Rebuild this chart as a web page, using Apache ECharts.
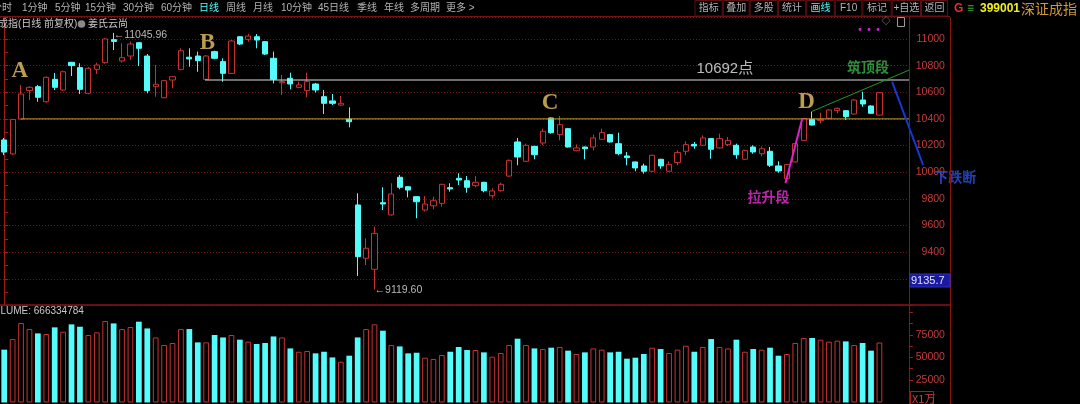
<!DOCTYPE html>
<html><head><meta charset="utf-8">
<script src="https://cdn.jsdelivr.net/npm/echarts@6.0.0/dist/echarts.min.js"></script>
<style>html,body{margin:0;padding:0;background:#000;overflow:hidden}#c{width:1080px;height:404px}</style>
</head><body><div id="c"></div>
<script>
// ---------------- data ----------------
const openP = [10242,10137,10399,10612,10642,10529,10697,10617,10825,10785,
10592,10772,10822,10995,10835,10872,10972,10872,10642,10559,
10692,10772,10863,10872,10697,10905,10830,10742,11017,10997,
11017,10980,10855,10672,10705,10637,10612,10662,10567,10535,
10504,10399,9754,9354,9271,9771,9679,9962,9891,9816,
9716,9748,9766,9884,9954,9936,9899,9924,9823,9861,
9971,10227,10082,10194,10219,10407,10282,10327,10161,10189,
10189,10247,10282,10214,10122,10077,10047,10007,10097,10007,
10072,10157,10209,10202,10252,10182,10207,10202,10097,10189,
10139,10157,10047,9951,10077,10239,10397,10387,10405,10462,
10462,10437,10542,10497,10429];
const closeP = [10151,10396,10587,10637,10562,10712,10637,10754,10800,10622,
10780,10805,11000,10982,10860,10962,10930,10612,10660,10687,
10717,10912,10850,10837,10872,10855,10742,10985,10962,11022,
10992,10887,10697,10680,10662,10655,10680,10617,10517,10517,
10517,10379,9366,9429,9541,9761,9836,9887,9866,9778,
9761,9786,9909,9874,9941,9887,9924,9861,9859,9909,
10089,10114,10202,10131,10307,10297,10357,10189,10182,10176,
10257,10297,10227,10139,10109,10032,10007,10127,10047,10059,
10147,10207,10197,10257,10172,10252,10239,10131,10164,10152,
10176,10052,10009,10057,10214,10402,10354,10397,10467,10480,
10417,10542,10512,10442,10597];
const lowP = [10128,10130,10395,10542,10529,10522,10617,10610,10722,10587,
10585,10737,10815,10917,10822,10842,10797,10592,10567,10555,
10630,10765,10792,10754,10692,10848,10679,10738,10955,10980,
10930,10880,10667,10580,10622,10630,10562,10597,10437,10504,
10497,10337,9221,9303,9119.6,9716,9675,9872,9811,9654,
9705,9721,9741,9854,9904,9846,9887,9849,9804,9855,
9965,10052,10077,10097,10202,10289,10239,10185,10158,10097,
10164,10244,10222,10127,10052,10007,9989,10003,10026,10004,
10052,10127,10176,10198,10101,10178,10197,10101,10093,10139,
10119,10039,9996,9947,10073,10235,10350,10367,10400,10442,
10392,10433,10492,10438,10425];
const highP = [10257,10400,10655,10645,10655,10720,10745,10762,10828,10818,
10790,10822,11008,11045.96,10968,10980,10977,10887,10805,10692,
10722,10930,10930,10905,10880,10912,10855,10992,11022,11038,
11037,10985,10905,10730,10747,10680,10747,10670,10617,10587,
10572,10487,9842,9504,9591,9887,9917,9979,9895,9820,
9821,9816,9912,9917,9992,9971,9971,9928,9879,9921,
10095,10257,10214,10198,10327,10411,10422,10332,10209,10192,
10282,10327,10287,10297,10152,10080,10064,10132,10100,10082,
10164,10232,10227,10277,10256,10289,10264,10214,10168,10202,
10194,10189,10082,10062,10218,10405,10454,10447,10472,10485,
10466,10550,10604,10502,10602];
// volume in 万 (X1万)
const volume = [58700,70500,88300,81600,76800,76100,83500,78700,86800,84200,
75000,77900,90500,87900,81600,83900,89800,82300,72300,63900,
66100,81600,81600,66800,66800,75000,72300,75000,69800,67600,
65000,66100,73400,72300,60100,56400,57200,54600,56400,50100,
45300,52000,72300,81600,86800,79800,63900,62300,54600,55300,
49800,48300,52800,56400,61700,58300,58300,55700,50900,55000,
63900,70900,63900,60100,59400,60900,61700,57600,53900,55700,
60100,58700,55700,56400,48700,49800,53900,60900,59400,55000,
58700,63100,56400,61700,70500,61700,60100,69800,56400,59400,
58700,60900,52000,53900,66100,71700,71700,69800,67600,68700,
67900,63900,66100,57600,66633];
const days = openP.map((_, i) => 'D' + (i + 1));
const priceTicks = [9400, 9600, 9800, 10000, 10200, 10400, 10600, 10800, 11000];
const volTicks = [25000, 50000, 75000];
const lastVolume = '666334784';
const cursorValue = '9135.7';
// annotation lines: [x(candle index units), price]
const supportLine = [[2, 10400], [107.5, 10400]];
const resistLine = [[23.85, 10692], [107.5, 10692]];
const topLine = [[95.86, 10454], [107.5, 10767]];
const riseLine = [[92.8, 9917], [94.8, 10403]];
const fallLine = [[105.47, 10679], [109.15, 10054]];
// annotation texts: [x, price, text]
const pointLabels = [[1.86, 10756, 'A'], [24.15, 10966, 'B'], [64.83, 10519, 'C'], [95.3, 10523, 'D']];
const noteLabels = [[85.6, 10775, '10692点'], [102.6, 10794, '筑顶段'], [90.8, 9814, '拉升段'], [112.97, 9964, '下跌断']];

// ---------------- styles ----------------
const UP = '#c83232', DOWN = '#54fcfc', GRIDC = '#701818', AXC = '#a01c1c', LBL = '#c83a3a';
const SANS = '"Liberation Sans", "Noto Sans CJK SC", sans-serif';
const CJK = '"Noto Sans CJK SC", "Liberation Sans", sans-serif';
const noteStyles = [
  {color: '#e8e8e8', fontSize: 15, fontFamily: SANS},
  {color: '#3db34a', fontSize: 14, fontWeight: 'bold', fontFamily: CJK},
  {color: '#e632d2', fontSize: 14, fontWeight: 'bold', fontFamily: CJK},
  {color: '#2a52e8', fontSize: 14, fontWeight: 'bold', fontFamily: CJK}
];

const ohlc = openP.map((o, i) => [o, closeP[i], lowP[i], highP[i]]);
const volData = volume.map((v, i) => ({
  value: v,
  itemStyle: closeP[i] >= openP[i] ? {color: '#000', borderColor: UP, borderWidth: 1} : {color: DOWN, borderWidth: 0}
}));

// overlay grid (same pixel scale as the candle grid, but reaching the right edge)
const GL = -1.9, GR = 171.1, GT = 17, GH = 288.4, SLOTS = 108;
const unitPx = (1080 - GL - GR) / SLOTS;
const overlayMax = -0.5 + (1080 - GL) / unitPx;

function lineSeries(data, color, width) {
  return {type: 'line', xAxisIndex: 3, yAxisIndex: 2, data, symbol: 'none', silent: true, clip: false,
    lineStyle: {color, width}, z: 5, animation: false};
}

// ---------------- chrome ----------------
const tbLeft = [['分时', -8], ['1分钟', 22], ['5分钟', 55], ['15分钟', 85], ['30分钟', 123], ['60分钟', 161], ['日线', 199],
  ['周线', 226], ['月线', 253], ['10分钟', 281], ['45日线', 318], ['季线', 357], ['年线', 384], ['多周期', 410], ['更多 >', 446]];
const tbRightSep = [694.5, 722.8, 749.7, 777.9, 806.2, 834.8, 862.4, 891.7, 921, 948];
const tbRight = ['指标', '叠加', '多股', '统计', '画线', 'F10', '标记', '+自选', '返回'];
const graphics = [];
tbLeft.forEach(([t, x]) => graphics.push({type: 'text', x: x, y: 8.5, z: 100,
  style: {text: t, fill: t === '日线' ? DOWN : '#b4b4b4', font: '10px ' + SANS, verticalAlign: 'middle'}}));
graphics.push({type: 'line', shape: {x1: 0, y1: 16.5, x2: 950, y2: 16.5}, style: {stroke: '#7a1010', lineWidth: 1}, z: 100});
tbRight.forEach((t, k) => {
  const x1 = tbRightSep[k], x2 = tbRightSep[k + 1];
  graphics.push({type: 'rect', shape: {x: x1 + 0.5, y: 0.5, width: x2 - x1 - 1, height: 15.5},
    style: {fill: '#000', stroke: '#5e1010', lineWidth: 1}, z: 100});
  graphics.push({type: 'text', x: (x1 + x2) / 2, y: 8.5, z: 101,
    style: {text: t, fill: t === '画线' ? DOWN : '#b4b4b4', font: '10px ' + SANS, align: 'center', verticalAlign: 'middle'}});
});
graphics.push({type: 'text', x: 954, y: 9, z: 101, style: {text: 'G', fill: '#e03030', font: 'bold 12px ' + SANS, verticalAlign: 'middle'}});
graphics.push({type: 'text', x: 967, y: 9, z: 101, style: {text: '≡', fill: '#30b030', font: 'bold 12px ' + SANS, verticalAlign: 'middle'}});
graphics.push({type: 'text', x: 980, y: 9, z: 101, style: {text: '399001', fill: '#f0f020', font: 'bold 12px ' + SANS, verticalAlign: 'middle'}});
graphics.push({type: 'text', x: 1021, y: 9, z: 101, style: {text: '深证成指', fill: '#d0983a', font: '14px ' + CJK, verticalAlign: 'middle'}});
// panel frames
graphics.push({type: 'line', shape: {x1: 950.5, y1: 17, x2: 950.5, y2: 404}, style: {stroke: '#8a1414', lineWidth: 1}, z: 100});
graphics.push({type: 'line', shape: {x1: 909.5, y1: 17, x2: 909.5, y2: 404}, style: {stroke: '#8a1414', lineWidth: 1}, z: 100});
graphics.push({type: 'line', shape: {x1: 0, y1: 305, x2: 950, y2: 305}, style: {stroke: '#8a1414', lineWidth: 1.5}, z: 100});
// titles
graphics.push({type: 'text', x: -22, y: 24, z: 100, style: {text: '深证成指(日线 前复权)', fill: '#c8c8c8', font: '10px ' + SANS, verticalAlign: 'middle'}});
graphics.push({type: 'circle', shape: {cx: 81.5, cy: 24, r: 3.8}, style: {fill: '#8a8a8a'}, z: 100});
graphics.push({type: 'text', x: 88, y: 24, z: 100, style: {text: '姜氏云尚', fill: '#c8c8c8', font: '10px ' + SANS, verticalAlign: 'middle'}});
graphics.push({type: 'text', x: -14, y: 311, z: 100, style: {text: 'VOLUME: ' + lastVolume, fill: '#c8c8c8', font: '10px ' + SANS, verticalAlign: 'middle'}});
// cursor value box
graphics.push({type: 'rect', shape: {x: 909.5, y: 274, width: 40.5, height: 13}, style: {fill: '#1a1aa0', stroke: '#3030c0', lineWidth: 1}, z: 110});
graphics.push({type: 'text', x: 911, y: 280.8, z: 111, style: {text: cursorValue, fill: '#e0e0ff', font: '11px ' + SANS, verticalAlign: 'middle'}});
// unit box
graphics.push({type: 'rect', shape: {x: 910.5, y: 391.5, width: 23, height: 13}, style: {fill: '#000', stroke: '#a01c1c', lineWidth: 1}, z: 110});
graphics.push({type: 'text', x: 912, y: 398.5, z: 111, style: {text: 'X1万', fill: '#c83a3a', font: '11px ' + CJK, verticalAlign: 'middle'}});
// small icons top-right
graphics.push({type: 'text', x: 869, y: 30, z: 100, style: {text: '•  •  •', fill: '#d020d0', font: 'bold 10px ' + SANS, align: 'center', verticalAlign: 'middle'}});
graphics.push({type: 'text', x: 886, y: 22, z: 100, style: {text: '◇', fill: '#9a9a9a', font: '9px ' + SANS, align: 'center', verticalAlign: 'middle'}});
graphics.push({type: 'rect', shape: {x: 897.5, y: 17.5, width: 7, height: 9}, style: {fill: 'none', stroke: '#9a9a9a', lineWidth: 1}, z: 100});

// ---------------- chart ----------------
const chart = echarts.init(document.getElementById('c'), null, {renderer: 'canvas'});
const priceSet = new Set(priceTicks), volSet = new Set(volTicks);
chart.setOption({
  backgroundColor: '#000',
  animation: false,
  graphic: graphics,
  grid: [
    {left: GL, right: GR, top: GT, height: GH, containLabel: false},
    {left: GL, right: GR, top: 305, bottom: 1.5, containLabel: false},
    {left: GL, right: 0, top: GT, height: GH, containLabel: false}
  ],
  xAxis: [
    {type: 'category', gridIndex: 0, data: days, max: SLOTS - 1, boundaryGap: true, show: false},
    {type: 'value', gridIndex: 0, min: -0.5, max: SLOTS - 0.5, show: false},
    {type: 'category', gridIndex: 1, data: days, max: SLOTS - 1, boundaryGap: true, show: false},
    {type: 'value', gridIndex: 2, min: -0.5, max: overlayMax, show: false}
  ],
  yAxis: [
    {type: 'value', gridIndex: 0, position: 'right', min: 9000, max: 11165, interval: 200,
      axisLine: {show: true, lineStyle: {color: AXC}},
      axisTick: {show: true, length: 4, lineStyle: {color: AXC}},
      minorTick: {show: true, splitNumber: 2, length: 4, lineStyle: {color: AXC}},
      axisLabel: {color: LBL, fontSize: 10.5, fontFamily: SANS, align: 'right', margin: 36,
        formatter: v => priceSet.has(v) ? String(v) : ''},
      splitLine: {show: true, lineStyle: {color: GRIDC, type: [1, 2], width: 1}}},
    {type: 'value', gridIndex: 1, position: 'right', min: 0, max: 108333, interval: 25000,
      axisLine: {show: true, lineStyle: {color: AXC}},
      axisTick: {show: true, length: 4, lineStyle: {color: AXC}},
      minorTick: {show: true, splitNumber: 2, length: 4, lineStyle: {color: AXC}},
      axisLabel: {color: LBL, fontSize: 10.5, fontFamily: SANS, align: 'right', margin: 36,
        formatter: v => volSet.has(v) ? String(v) : ''},
      splitLine: {show: false}},
    {type: 'value', gridIndex: 2, min: 9000, max: 11165, show: false}
  ],
  series: [
    {type: 'candlestick', name: 'K', xAxisIndex: 0, yAxisIndex: 0, data: ohlc, barWidth: '68%',
      itemStyle: {color: '#000', color0: DOWN, borderColor: UP, borderColor0: DOWN, borderWidth: 1},
      z: 3,
      markPoint: {
        symbol: 'circle', symbolSize: 0.1, itemStyle: {color: 'transparent'}, silent: true,
        label: {show: true, position: 'right', distance: 0, color: '#b8b8b8', fontSize: 10.5, fontFamily: SANS,
          formatter: p => '←' + Number(p.value).toFixed(2)},
        data: [{type: 'max', valueDim: 'highest', label: {offset: [0, 2]}}, {type: 'min', valueDim: 'lowest', label: {offset: [0, 1]}}]
      }},
    {type: 'bar', name: 'VOL', xAxisIndex: 2, yAxisIndex: 1, data: volData, barWidth: '68%',
      markLine: {silent: true, symbol: 'none', label: {show: false},
        lineStyle: {color: GRIDC, type: [1, 2], width: 1},
        data: [
          [{coord: [0, volTicks[2]]}, {coord: [SLOTS - 1, volTicks[2]]}],
          [{coord: [105, volTicks[1]]}, {coord: [SLOTS - 1, volTicks[1]]}],
          [{coord: [105, volTicks[0]]}, {coord: [SLOTS - 1, volTicks[0]]}]
        ]}},
    lineSeries(supportLine, '#c9a227', 1),
    lineSeries(resistLine, '#dcdcdc', 1.2),
    lineSeries(topLine, '#1f9a1f', 1),
    lineSeries(riseLine, '#e020d0', 2),
    lineSeries(fallLine, '#1a38d8', 2),
    {type: 'scatter', xAxisIndex: 3, yAxisIndex: 2, clip: false, silent: true, symbolSize: 1, z: 10,
      itemStyle: {color: 'transparent'},
      data: pointLabels.map(([x, y, t]) => ({value: [x, y], name: t})),
      label: {show: true, position: 'inside', formatter: p => p.name, color: '#e9c463', fontSize: 23,
        fontWeight: 'bold', fontFamily: '"Liberation Serif", "DejaVu Serif", serif'}},
    {type: 'scatter', xAxisIndex: 3, yAxisIndex: 2, clip: false, silent: true, symbolSize: 1, z: 10,
      itemStyle: {color: 'transparent'},
      data: noteLabels.map(([x, y, t], k) => ({value: [x, y], name: t, label: noteStyles[k]})),
      label: {show: true, position: 'inside', formatter: p => p.name}}
  ]
});
</script></body></html>
